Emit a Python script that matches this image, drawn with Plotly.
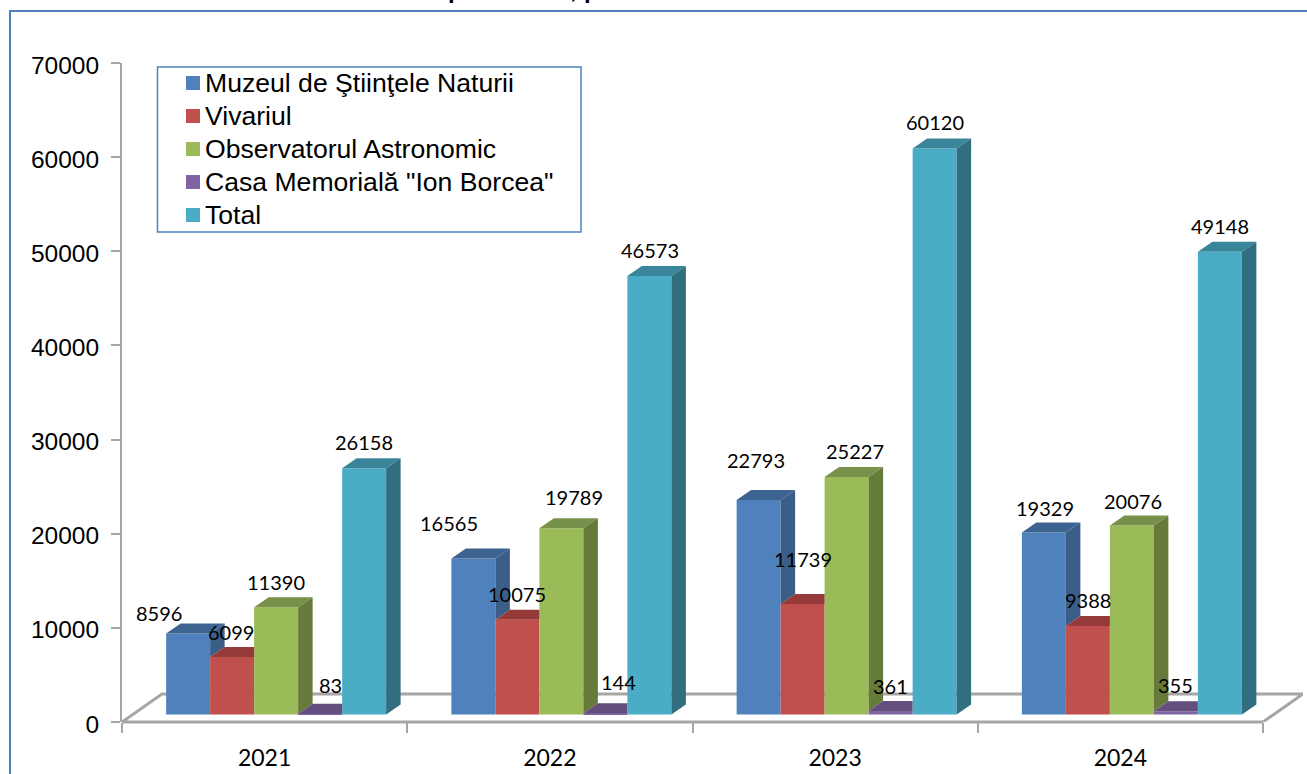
import plotly.graph_objects as go

years = ["2021", "2022", "2023", "2024"]
series_names = ["Muzeul de Ştiinţele Naturii", "Vivariul", "Observatorul Astronomic",
                'Casa Memorială "Ion Borcea"', "Total"]
muzeu = [8596, 16565, 22793, 19329]
vivariu = [6099, 10075, 11739, 9388]
observator = [11390, 19789, 25227, 20076]
casa = [83, 144, 361, 355]
total = [26158, 46573, 60120, 49148]
all_values = [muzeu, vivariu, observator, casa, total]

front = ["#4F81BD", "#C0504D", "#9BBB59", "#8064A2", "#4BACC6"]
top_c = ["#3D6490", "#953A38", "#78914A", "#634E7E", "#3A859A"]
side_c = ["#3A5E88", "#8C3836", "#667A3A", "#5C4875", "#316E80"]

# pixel geometry of the plot
W, H = 1307, 774
PL, PR, PT, PB = 122, 1303, 63, 722
CAT = 285.25
PX_Y = (PB - PT) / 70000.0
xmax = 3.5 + (PR - (PL + 4 * CAT)) / CAT
bar_w = 44 / CAT
dx = 14.5 / CAT
dy = 10 / PX_Y
base = 7.5 / PX_Y
offsets = [(-76.5 + 44 * i) / CAT for i in range(5)]
floor_dx = 40 / CAT
floor_dy = 28 / PX_Y
LABEL_FONT = "Lato"
AX_FONT = "Liberation Sans"


def px(x):
    return (x - PL) / (PR - PL)


def py(y):
    return (PB - y) / (PB - PT)


# label centres relative to (bar centre, bar top), px: right, up
label_shift = [
    [(-29, 21), (-24, 36), (-3, 40), (1, 25)],
    [(-1, 25), (0, 26), (0, 45), (0, 26)],
    [(0, 25), (13, 31), (8, 26), (1, 25)],
    [(10, 29), (13, 31), (0, 25), (0, 26)],
    [(0, 26), (1, 26), (0, 27), (0, 26)],
]

fig = go.Figure()
annotations = []
for s, vals in enumerate(all_values):
    xs = [c + offsets[s] for c in range(4)]
    fig.add_trace(go.Bar(
        x=xs, y=vals, base=[base] * 4, width=bar_w, name=series_names[s],
        marker=dict(color=front[s], line=dict(width=0)),
        hoverinfo="skip", showlegend=False,
    ))

for s, vals in enumerate(all_values):
    for c, v in enumerate(vals):
        xl = c + offsets[s] - bar_w / 2
        xr = xl + bar_w
        t = v + base
        next_t = all_values[s + 1][c] + base if s < 4 else None
        # top face, hidden on the right by a taller neighbour
        if next_t is not None and next_t > t:
            tx = [xl, xl + dx, xr, xr, xl]
            ty = [t, t + dy, t + dy, t, t]
        else:
            tx = [xl, xl + dx, xr + dx, xr, xl]
            ty = [t, t + dy, t + dy, t, t]
        fig.add_trace(go.Scatter(x=tx, y=ty, mode="lines", fill="toself", fillcolor=top_c[s],
                                 line=dict(width=0), showlegend=False, hoverinfo="skip"))
        # side face, hidden below the neighbour's top edge
        low = base if next_t is None else next_t
        if next_t is None or next_t < t:
            sx = [xr, xr + dx, xr + dx, xr, xr]
            sy = [low, low + dy, t + dy, t, low]
            fig.add_trace(go.Scatter(x=sx, y=sy, mode="lines", fill="toself", fillcolor=side_c[s],
                                     line=dict(width=0), showlegend=False, hoverinfo="skip"))
        sh = label_shift[s][c]
        annotations.append(dict(x=c + offsets[s], y=t, text=str(v), showarrow=False,
                                xshift=sh[0], yshift=sh[1], xanchor="center", yanchor="middle",
                                font=dict(family=LABEL_FONT, size=20, color="#000000")))

GR = "#A6A6A6"
x0, x1 = -0.5, 3.5
floor = f"M{x0},0 L{x0 + floor_dx},{floor_dy} L{x1 + floor_dx},{floor_dy} L{x1},0 Z"
shapes = [
    dict(type="path", path=floor, xref="x", yref="y", layer="below",
         line=dict(color=GR, width=3), fillcolor="white"),
    dict(type="line", xref="paper", yref="paper", x0=0, x1=4 * CAT / (PR - PL), y0=0, y1=0,
         layer="below", line=dict(color=GR, width=3)),
    # outer frame
    dict(type="rect", xref="paper", yref="paper", layer="below",
         x0=px(10), x1=px(1330), y0=py(800), y1=py(11),
         line=dict(color="#4F81BD", width=2), fillcolor="rgba(0,0,0,0)"),
    # legend box
    dict(type="rect", xref="paper", yref="paper", layer="above",
         x0=px(157.5), x1=px(581), y0=py(232), y1=py(67),
         line=dict(color="#4F81BD", width=1.5), fillcolor="white"),
]

# legend entries
for i, name in enumerate(series_names):
    yc = 83 + 33 * i
    shapes.append(dict(type="rect", xref="paper", yref="paper", layer="above",
                       x0=px(186), x1=px(200), y0=py(yc + 7), y1=py(yc - 7),
                       line=dict(width=0), fillcolor=front[i]))
    annotations.append(dict(xref="paper", yref="paper", x=px(205), y=py(yc), text=name,
                            showarrow=False, xanchor="left", yanchor="middle", xshift=-2,
                            font=dict(family=AX_FONT, size=26.6, color="#000000")))

# bottoms of the title letters, cut off by the top of the picture
for ch, xc in (("p", 455), (",", 573), ("p", 591)):
    annotations.append(dict(xref="paper", yref="paper", x=px(xc), y=py(-10), text=ch,
                            showarrow=False, xanchor="center", yanchor="middle",
                            font=dict(family=AX_FONT, size=24, color="#000000", weight="bold")))

fig.update_layout(
    width=W, height=H, margin=dict(l=PL, r=W - PR, t=PT, b=H - PB, autoexpand=False),
    paper_bgcolor="white", plot_bgcolor="rgba(0,0,0,0)", barmode="overlay",
    shapes=shapes, annotations=annotations,
    showlegend=False,
    xaxis=dict(range=[-0.5, xmax], tickmode="array", tickvals=list(range(4)), ticktext=years,
               showgrid=False, zeroline=False, showline=False, ticks="outside", ticklen=15,
               automargin=False,
               tickcolor="rgba(0,0,0,0)", tickfont=dict(family=LABEL_FONT, size=23, color="#000000"),
               minor=dict(tickmode="array", tickvals=[-0.5, 0.5, 1.5, 2.5, 3.5], ticks="outside",
                          ticklen=10, tickcolor=GR, tickwidth=2, showgrid=False)),
    yaxis=dict(range=[0, 70000], tickvals=list(range(0, 70001, 10000)), tickformat="d", showgrid=False,
               zeroline=False, automargin=False, ticklabelstandoff=7, ticklabelshift=2,
               showline=True, linecolor=GR, linewidth=2, ticks="outside", ticklen=9, tickcolor=GR,
               tickwidth=2, tickfont=dict(family=AX_FONT, size=24.5, color="#000000")),
)
fig.write_html("out.html", post_script="document.body.style.margin='0';",
               config=dict(displayModeBar=False))
